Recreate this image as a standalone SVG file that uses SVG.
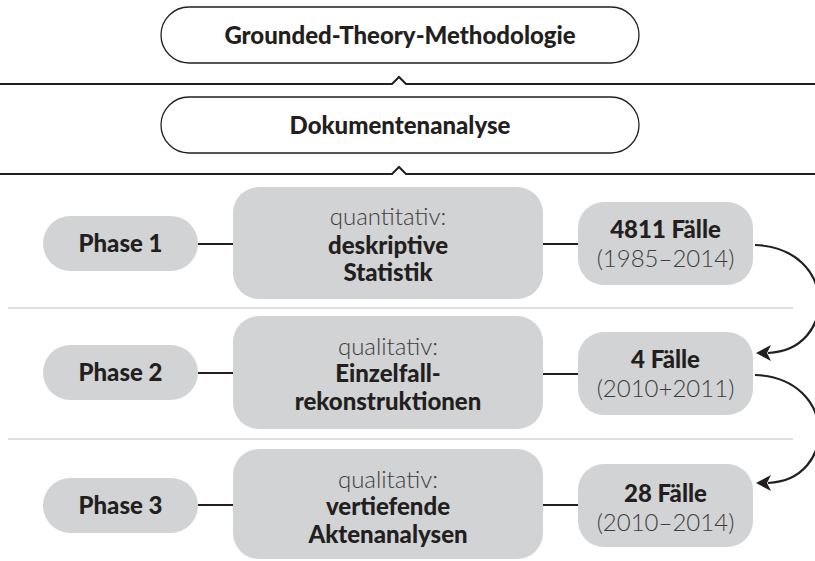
<svg xmlns="http://www.w3.org/2000/svg" width="815" height="561" viewBox="0 0 815 561">
<defs>
<style>
text{font-family:Lato,"Open Sans","Liberation Sans",sans-serif;text-anchor:middle;font-size:24px;}
.b{font-weight:900;fill:#231f20;}
.l{font-weight:300;fill:#3d3d3f;}
.hdr{fill:#fff;stroke:#231f20;stroke-width:1.3;}
.box{fill:#d1d3d4;}
.sep{stroke:#d6d6d6;stroke-width:1.5;fill:none;}
.rule{stroke:#231f20;stroke-width:2;fill:none;}
.con{stroke:#231f20;stroke-width:2.2;fill:none;}
.ah{fill:#231f20;}
</style>
</defs>
<rect width="815" height="561" fill="#fff"/>
<g id="rules">
<path class="rule" d="M0,84 H392 L399,77 L406,84 H815"/>
<path class="rule" d="M0,174 H392 L399,167 L406,174 H815"/>
<path class="sep" d="M8,308 H793"/>
<path class="sep" d="M8,439 H793"/>
</g>
<g id="gtm">
<rect class="hdr" x="161" y="7" width="478" height="56" rx="28"/>
<text class="b" x="400" y="44" font-size="21">Grounded-Theory-Methodologie</text>
</g>
<g id="doku">
<rect class="hdr" x="161" y="97" width="478" height="56" rx="28"/>
<text class="b" x="400" y="134" font-size="21">Dokumentenanalyse</text>
</g>
<g id="connectors">
<path class="con" d="M198,244 H233 M543,244 H578"/>
<path class="con" d="M198,373 H233 M543,374 H578"/>
<path class="con" d="M198,505 H233 M543,505 H578"/>
<path class="con" d="M755,245 C838,248 838,350 768,353"/>
<path class="con" d="M755,375 C838,378 838,480 768,483"/>
<path class="ah" d="M756,353 L771,345 L767,353 L771,361 Z"/>
<path class="ah" d="M756,483 L771,475 L767,483 L771,491 Z"/>
</g>
<g id="phase1">
<rect class="box" x="43" y="216" width="155" height="55" rx="27.5"/>
<text class="b" x="120.5" y="252">Phase 1</text>
</g>
<g id="method1">
<rect class="box" x="233" y="187" width="310" height="112" rx="26"/>
<text class="l" x="388" y="225">quantitativ:</text>
<text class="b" x="388" y="254">deskriptive</text>
<text class="b" x="388" y="281">Statistik</text>
</g>
<g id="cases1">
<rect class="box" x="578" y="202" width="175" height="83" rx="26"/>
<text class="b" x="665.5" y="238">4811 Fälle</text>
<text class="l" x="665.5" y="267">(1985–2014)</text>
</g>
<g id="phase2">
<rect class="box" x="43" y="345" width="155" height="55" rx="27.5"/>
<text class="b" x="120.5" y="381">Phase 2</text>
</g>
<g id="method2">
<rect class="box" x="233" y="316" width="310" height="113" rx="26"/>
<text class="l" x="388" y="355">qualitativ:</text>
<text class="b" x="388" y="382">Einzelfall-</text>
<text class="b" x="388" y="410">rekonstruktionen</text>
</g>
<g id="cases2">
<rect class="box" x="578" y="332" width="175" height="83" rx="26"/>
<text class="b" x="665.5" y="368">4 Fälle</text>
<text class="l" x="665.5" y="397">(2010+2011)</text>
</g>
<g id="phase3">
<rect class="box" x="43" y="478" width="155" height="55" rx="27.5"/>
<text class="b" x="120.5" y="514">Phase 3</text>
</g>
<g id="method3">
<rect class="box" x="233" y="449" width="310" height="110" rx="26"/>
<text class="l" x="388" y="488">qualitativ:</text>
<text class="b" x="388" y="515">vertiefende</text>
<text class="b" x="388" y="543">Aktenanalysen</text>
</g>
<g id="cases3">
<rect class="box" x="578" y="464" width="175" height="83" rx="26"/>
<text class="b" x="665.5" y="502">28 Fälle</text>
<text class="l" x="665.5" y="531">(2010–2014)</text>
</g>
</svg>
